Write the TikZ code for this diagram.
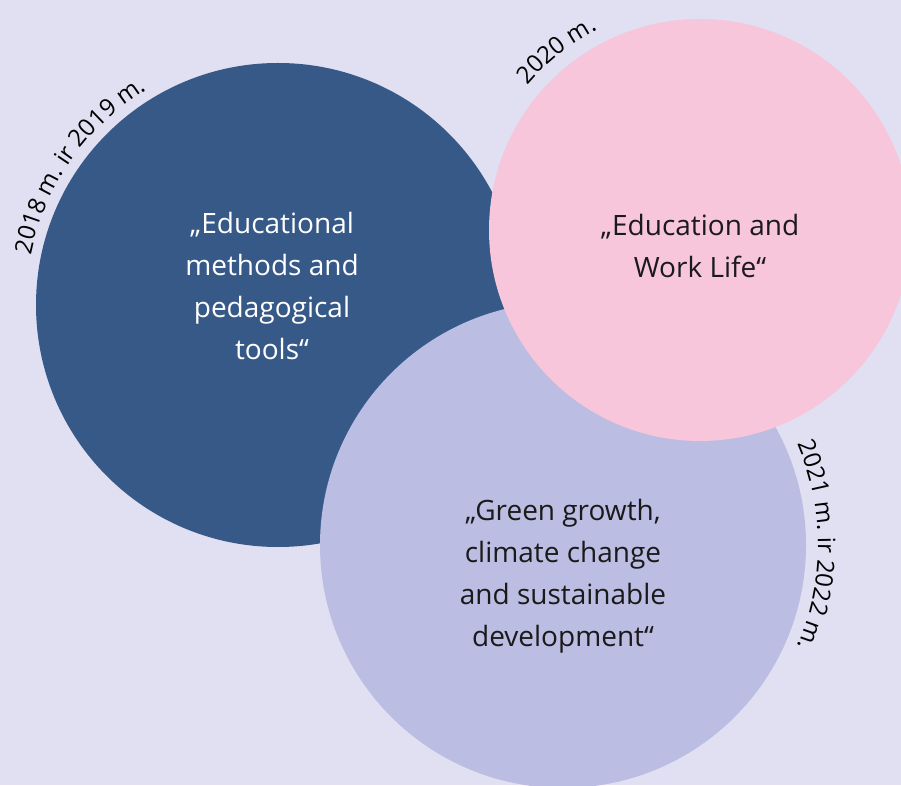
\documentclass[tikz,border=0pt]{standalone}
\usepackage{fontspec}
\setmainfont{Open Sans}
\usetikzlibrary{calc,decorations.text}

\definecolor{backdrop}{RGB}{224,224,242}
\definecolor{navydisc}{RGB}{55,89,135}
\definecolor{lilacdisc}{RGB}{187,189,227}
\definecolor{rosedisc}{RGB}{247,198,218}
\definecolor{inkgrey}{RGB}{26,26,26}

\tikzset{
  disc/.style={circle, inner sep=0pt, outer sep=0pt, draw=none},
  theme/.style={align=center, font=\fontsize{28}{42}\selectfont},
  yearlabel/.style={decorate, decoration={text along path, text align=center,
      text={|\fontsize{24}{24}\selectfont|#1}}}
}

\begin{document}
\begin{tikzpicture}[x=1pt, y=1pt]
  \fill[backdrop] (0,0) rectangle (901,785);
  \useasboundingbox (0,0) rectangle (901,785);
  \clip (0,0) rectangle (901,785);

  \node[disc, fill=navydisc, minimum size=484pt] (methods) at (278,480) {};
  \node[disc, fill=lilacdisc, minimum size=486pt] (green) at (563,240) {};
  \node[disc, fill=rosedisc, minimum size=422pt] (work) at (700,555) {};

  \node[theme, text=white] (methodstext) at ($(methods)+(-6,19)$)
    {„Educational\\methods and\\pedagogical\\tools“};
  \node[theme, text=inkgrey] (worktext) at ($(work)+(0,-16)$)
    {„Education and\\Work Life“};
  \node[theme, text=inkgrey] (greentext) at ($(green)+(0,-31)$)
    {„Green growth,\\climate change\\and sustainable\\development“};

  % years, along the circles
  \path[yearlabel={2018 m. ir 2019 m.}]
    ($(methods)+(180:252)$) arc[start angle=180, end angle=110, radius=252];
  \path[yearlabel={2020 m.}]
    ($(work)+(155:225)$) arc[start angle=155, end angle=102, radius=225];
  \path[yearlabel={2021 m. ir 2022 m.}]
    ($(green)+(35:255)$) arc[start angle=35, end angle=-35, radius=255];
\end{tikzpicture}
\end{document}
